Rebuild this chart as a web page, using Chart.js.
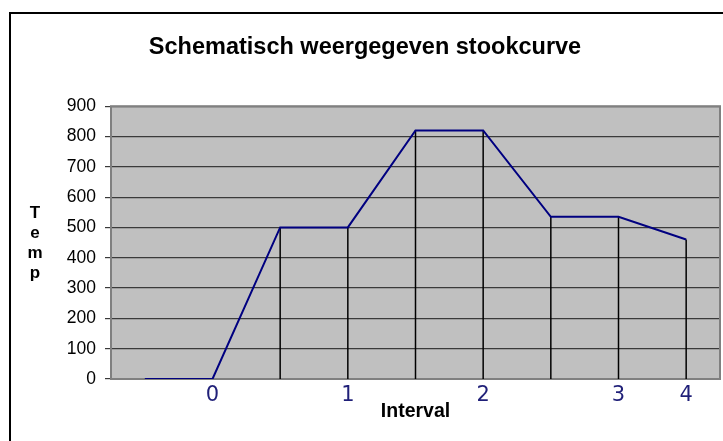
<!DOCTYPE html>
<html>
<head>
<meta charset="utf-8">
<script src="https://cdn.jsdelivr.net/npm/chart.js@4/dist/chart.umd.min.js"></script>
<style>
  html, body { margin: 0; padding: 0; background: #fff; }
  #wrap { width: 723px; height: 441px; }
</style>
</head>
<body>
<div id="wrap"><canvas id="stookChart" width="723" height="441"></canvas></div>
<script>
// values
const intervalLabels = ["", "0", "", "1", "", "2", "", "3", "4"];
const temps = [0, 0, 500, 500, 820, 820, 535, 535, 460];
const yLetters = ["T", "e", "m", "p"];
const yMin = 0;
const yMax = 900;
const yStep = 100;

const FONT = "'Liberation Sans', Arial, sans-serif";

// grey plot area, outer frame, plot border and drop lines (Excel look)
const excelLook = {
  id: "excelLook",
  beforeDraw(chart) {
    const { ctx, chartArea: a } = chart;
    ctx.save();
    ctx.strokeStyle = "#000";
    ctx.lineWidth = 2;
    ctx.strokeRect(10, 13, 800, 800);
    ctx.fillStyle = "#c0c0c0";
    ctx.fillRect(a.left, a.top, a.right - a.left, a.bottom - a.top);
    ctx.restore();
  },
  beforeDatasetsDraw(chart) {
    const { ctx, chartArea: a } = chart;
    const yScale = chart.scales.y;
    const meta = chart.getDatasetMeta(0);
    ctx.save();
    ctx.strokeStyle = "#808080";
    ctx.lineWidth = 2;
    ctx.strokeRect(a.left, a.top, a.right - a.left, a.bottom - a.top);
    ctx.strokeStyle = "#000";
    ctx.lineWidth = 1.5;
    meta.data.forEach((pt) => {
      ctx.beginPath();
      ctx.moveTo(pt.x, pt.y);
      ctx.lineTo(pt.x, yScale.getPixelForValue(yMin));
      ctx.stroke();
    });
    // stacked letters of the y title
    ctx.fillStyle = "#000";
    ctx.font = "bold 17px " + FONT;
    ctx.textAlign = "center";
    ctx.textBaseline = "middle";
    yLetters.forEach((ch, i) => ctx.fillText(ch, 35, 213 + i * 20));
    ctx.restore();
  },
};

new Chart(document.getElementById("stookChart").getContext("2d"), {
  type: "line",
  data: {
    labels: intervalLabels,
    datasets: [
      {
        data: temps,
        borderColor: "#000080",
        borderWidth: 2,
        pointRadius: 0,
        fill: false,
        tension: 0,
      },
    ],
  },
  options: {
    responsive: false,
    animation: false,
    layout: { padding: { left: 10, right: 3, top: 0, bottom: 0 } },
    plugins: {
      legend: { display: false },
      tooltip: { enabled: false },
      title: {
        display: true,
        text: "Schematisch weergegeven stookcurve",
        color: "#000",
        font: { family: FONT, size: 23.5, weight: "bold" },
        padding: { top: 33, bottom: 45 },
      },
    },
    scales: {
      x: {
        offset: true,
        grid: { display: false, drawTicks: false },
        border: { display: false },
        ticks: {
          autoSkip: false,
          maxRotation: 0,
          padding: 4,
          color: "#1f1f78",
          font: { family: "'DejaVu Sans', Verdana, sans-serif", size: 21 },
        },
        title: {
          display: true,
          text: "Interval",
          color: "#000",
          font: { family: FONT, size: 19.5, weight: "bold" },
          padding: { top: 0, bottom: 18 },
        },
        afterFit: (s) => { s.height = 62; },
      },
      y: {
        min: yMin,
        max: yMax,
        grid: { color: "#3a3a3a", lineWidth: 1.2, tickLength: 6 },
        border: { display: false },
        ticks: {
          stepSize: yStep,
          padding: 9,
          color: "#000",
          font: { family: FONT, size: 17.5 },
        },
        afterFit: (s) => { s.width = 101; },
      },
    },
  },
  plugins: [excelLook],
});
</script>
</body>
</html>
